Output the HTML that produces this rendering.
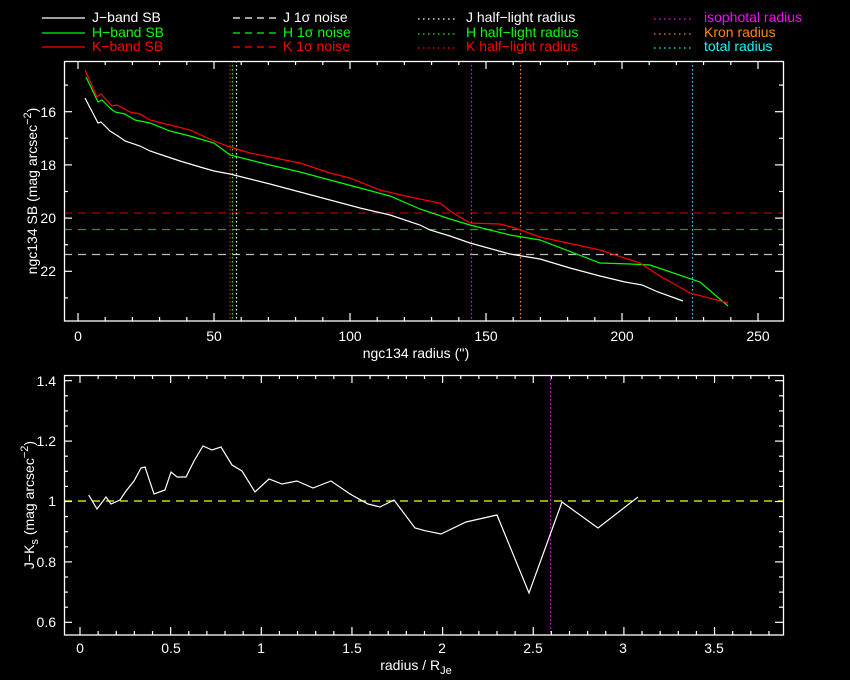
<!DOCTYPE html>
<html><head><meta charset="utf-8"><style>
html,body{margin:0;padding:0;background:#000;}
svg{display:block;}
text{font-family:"Liberation Sans",sans-serif;font-size:14px;}
</style></head><body>
<svg width="850" height="680" viewBox="0 0 850 680" xmlns="http://www.w3.org/2000/svg">
<rect width="850" height="680" fill="#000"/>
<g stroke-width="1.2">
<line x1="42" y1="18" x2="85" y2="18" stroke="#fff"/>
<line x1="42" y1="33" x2="85" y2="33" stroke="#0f0"/>
<line x1="42" y1="47" x2="85" y2="47" stroke="#f00"/>
<line x1="233" y1="18" x2="276" y2="18" stroke="#fff" stroke-dasharray="7,5"/>
<line x1="233" y1="33" x2="276" y2="33" stroke="#0f0" stroke-dasharray="7,5"/>
<line x1="233" y1="47" x2="276" y2="47" stroke="#f00" stroke-dasharray="7,5"/>
<line x1="418" y1="19" x2="456" y2="19" stroke="#fff" stroke-dasharray="1.5,3.5"/>
<line x1="418" y1="34" x2="456" y2="34" stroke="#0f0" stroke-dasharray="1.5,3.5"/>
<line x1="418" y1="48" x2="456" y2="48" stroke="#f00" stroke-dasharray="1.5,3.5"/>
<line x1="654" y1="19" x2="694" y2="19" stroke="#f0f" stroke-dasharray="1.5,3.5"/>
<line x1="654" y1="34" x2="694" y2="34" stroke="#f80" stroke-dasharray="1.5,3.5"/>
<line x1="654" y1="48" x2="694" y2="48" stroke="#0ff" stroke-dasharray="1.5,3.5"/>
</g>
<text x="92" y="22" fill="#fff">J−band SB</text>
<text x="92" y="37" fill="#0f0">H−band SB</text>
<text x="92" y="51" fill="#f00">K−band SB</text>
<text x="283" y="22" fill="#fff">J 1σ noise</text>
<text x="283" y="37" fill="#0f0">H 1σ noise</text>
<text x="283" y="51" fill="#f00">K 1σ noise</text>
<text x="466" y="22" fill="#fff">J half−light radius</text>
<text x="466" y="37" fill="#0f0">H half−light radius</text>
<text x="466" y="51" fill="#f00">K half−light radius</text>
<text x="704" y="22" fill="#f0f">isophotal radius</text>
<text x="704" y="37" fill="#f80">Kron radius</text>
<text x="704" y="51" fill="#0ff">total radius</text>

<g stroke-width="1.2" fill="none">
<line x1="64" y1="213" x2="783" y2="213" stroke="#f00" stroke-dasharray="8,6" stroke-opacity="0.7"/>
<line x1="64" y1="229.5" x2="783" y2="229.5" stroke="#0f0" stroke-dasharray="8,6" stroke-opacity="0.7"/>
<line x1="64" y1="254.5" x2="783" y2="254.5" stroke="#fff" stroke-dasharray="8,6" stroke-opacity="0.75"/>
<line x1="230" y1="61" x2="230" y2="321" stroke="#f00" stroke-dasharray="1.5,2.5"/>
<line x1="232.5" y1="61" x2="232.5" y2="321" stroke="#0f0" stroke-dasharray="1.5,2.5"/>
<line x1="236.5" y1="61" x2="236.5" y2="321" stroke="#fff" stroke-dasharray="1.5,2.5"/>
<line x1="471.5" y1="61" x2="471.5" y2="321" stroke="#f0f" stroke-dasharray="1.5,2.5"/>
<line x1="520.5" y1="61" x2="520.5" y2="321" stroke="#f80" stroke-dasharray="1.5,2.5"/>
<line x1="692.5" y1="61" x2="692.5" y2="321" stroke="#0ff" stroke-dasharray="1.5,2.5"/>
<polyline stroke="#fff" points="85,98 98,123 101,122 110,131 118,136 125,141 140,146 150,151 165,156 180,161 200,167 214,171 230,174 250,179 270,184 300,192 330,200 360,208 390,215 420,225 430,230 450,236 470,243 510,254 540,259 570,268 600,276 625,282 642,285 658,292 683,301"/>
<polyline stroke="#0f0" points="86,77 98,102 102,100 110,108 115,112 125,114 135,120 150,123 170,131 190,136 214,143 230,155 250,160 270,165 300,172 330,180 360,188 390,196 420,209 450,219 470,225 510,235 540,240 600,263 630,264 650,265 700,282 728,306"/>
<polyline stroke="#f00" points="85,70 97,97 101,94 112,106 117,105 130,112 140,114 150,120 170,125 190,130 214,141 230,147 250,153 270,157 300,163 330,173 350,178 380,190 410,197 440,203 450,211 470,223 500,224 515,228 540,237 600,250 640,263 660,276 690,293 728,303"/>
<rect x="64.5" y="61.5" width="719" height="259.5" stroke="#fff" stroke-width="1.3"/>
</g>
<g id="topticks" stroke="#fff" stroke-width="1.2"></g>
<g fill="#fff" text-anchor="middle">
<text x="78" y="341">0</text><text x="214" y="341">50</text><text x="350" y="341">100</text>
<text x="486" y="341">150</text><text x="622" y="341">200</text><text x="758" y="341">250</text>
<text x="416" y="358">ngc134 radius ('')</text>
</g>
<g fill="#fff" text-anchor="end">
<text x="56" y="117">16</text><text x="56" y="170">18</text><text x="56" y="223">20</text><text x="56" y="276">22</text>
</g>
<text transform="translate(37,191) rotate(-90)" fill="#fff" text-anchor="middle">ngc134 SB (mag arcsec<tspan dy="-6" font-size="11">−2</tspan><tspan dy="6">)</tspan></text>

<g stroke-width="1.2" fill="none">
<line x1="64" y1="501" x2="783" y2="501" stroke="#ff0" stroke-dasharray="8,6"/>
<line x1="550.5" y1="375" x2="550.5" y2="635" stroke="#f0f" stroke-dasharray="1.5,2.5"/>
<polyline stroke="#fff" points="88.7,495 97,509 106,497 111,504 120,500 126,491 134,481 141,468 145,467 154,494 165,490 171,472 177,477 186,477 194,461 203,446 212,450 221,447 232,465 242,471 255,492 269,479 282,484 297,481 313,488 331,481 350,494 368,504 380,507 394,500 415,528 425,530.7 441,534 466,522 497,515 529,593 550,535 562,502 598,528 638,497"/>
<rect x="64.5" y="375.5" width="719" height="259.5" stroke="#fff" stroke-width="1.3"/>
</g>
<g id="botticks" stroke="#fff" stroke-width="1.2"></g>
<g fill="#fff" text-anchor="middle">
<text x="80" y="653">0</text><text x="171" y="653">0.5</text><text x="261" y="653">1</text>
<text x="352" y="653">1.5</text><text x="442" y="653">2</text><text x="533" y="653">2.5</text>
<text x="623" y="653">3</text><text x="714" y="653">3.5</text>
<text x="416" y="670">radius / R<tspan dy="4" font-size="11">Je</tspan></text>
</g>
<g fill="#fff" text-anchor="end">
<text x="56" y="386">1.4</text><text x="56" y="446">1.2</text><text x="56" y="506">1</text>
<text x="56" y="567">0.8</text><text x="56" y="627">0.6</text>
</g>
<text transform="translate(34,505) rotate(-90)" fill="#fff" text-anchor="middle">J−K<tspan dy="4" font-size="11">s</tspan><tspan dy="-4"> (mag arcsec</tspan><tspan dy="-6" font-size="11">−2</tspan><tspan dy="6">)</tspan></text>
</svg>
<script>
(function(){
var ns="http://www.w3.org/2000/svg";
function L(g,x1,y1,x2,y2){var l=document.createElementNS(ns,"line");l.setAttribute("x1",x1);l.setAttribute("y1",y1);l.setAttribute("x2",x2);l.setAttribute("y2",y2);g.appendChild(l);}
var g=document.getElementById("topticks");
for(var r=0;r<=260;r+=10){var x=78+2.72*r;if(x>783)break;var len=(r%50==0)?8:4;L(g,x,321,x,321-len);L(g,x,61,x,61+len);}
for(var m=15;m<=23;m++){var y=111.7+26.6*(m-16);if(y<62||y>320)continue;var len=(m%2==0)?8:4;L(g,64,y,64+len,y);L(g,783,y,783-len,y);}
var b=document.getElementById("botticks");
for(var i=0;i<=39;i++){var x=80+18.13*i;if(x>783)break;var len=(i%5==0)?8:4;L(b,x,635,x,635-len);L(b,x,375,x,375+len);}
for(var j=0;j<=17;j++){var v=0.6+0.05*j;var y=622.3-(v-0.6)/0.05*15.1;if(y<376||y>634)continue;var len=(j%4==0)?8:4;L(b,64,y,64+len,y);L(b,783,y,783-len,y);}
})();
</script>
</body></html>
